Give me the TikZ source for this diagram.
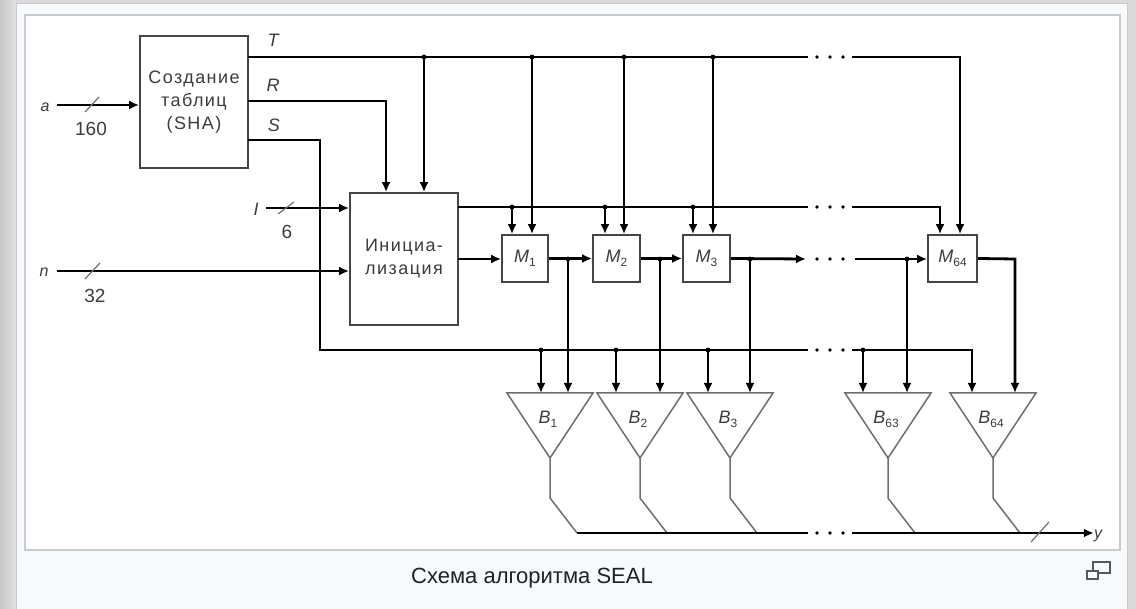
\documentclass[tikz,border=0pt]{standalone}
\usepackage{fontspec}
\setmainfont{Liberation Sans}
\newfontfamily\spacedfont[LetterSpace=8]{Liberation Sans}
\usetikzlibrary{arrows.meta,calc}
\definecolor{pagegrey}{HTML}{DADADA}
\definecolor{panelc}{HTML}{F8F9FA}
\definecolor{framec}{HTML}{C8CCD1}
\definecolor{boxc}{HTML}{454545}
\definecolor{txtc}{HTML}{3C3C3C}
\definecolor{wirec}{HTML}{6E6E6E}
\definecolor{capc}{HTML}{202122}
\definecolor{iconc}{HTML}{54595D}
\newcommand\lowsub[1]{\raisebox{-4pt}{\fontsize{12}{12}\selectfont\upshape #1}}
\newcommand\ellip[1]{\foreach \dx in {817,830,843}{\fill (\dx,#1) circle (1.9pt);}}
\newcommand\jdot[1]{\fill (#1) circle (2.4pt);}
\tikzset{
  sig/.style={line width=2.8pt, draw=black},
  arr/.style={sig, -{Latex[length=10pt,width=9pt]}},
  blk/.style={draw=boxc, line width=1.8pt, fill=white, inner sep=0pt, text=txtc},
  tri/.style={draw=wirec, line width=1.5pt, line join=miter},
  outw/.style={draw=wirec, line width=1.5pt},
  slashm/.style={draw=wirec, line width=1.2pt},
  lab/.style={font=\fontsize{18}{18}\selectfont\itshape, text=txtc, inner sep=0pt},
  smalllab/.style={font=\fontsize{16}{16}\selectfont\itshape, text=txtc, inner sep=0pt},
  num/.style={font=\fontsize{19}{19}\selectfont, text=txtc, inner sep=0pt},
  mlab/.style={font=\fontsize{18}{18}\selectfont\itshape, text=txtc, inner sep=0pt},
}
\begin{document}
\begin{tikzpicture}[x=1pt,y=-1pt]
\useasboundingbox (0,0) rectangle (1136,609);
% page background
\fill[pagegrey] (0,0) rectangle (1136,609);
\shade[left color=black!22, right color=black!12] (0,0) rectangle (16,609);
\fill[panelc, draw=framec, line width=1pt] (16,4) rectangle (1127,620);
\fill[white, draw=framec, line width=1.2pt] (25,15) rectangle (1120,550);

% blocks
\node[blk, minimum width=108pt, minimum height=132pt, align=center,
      font=\spacedfont\fontsize{18}{23}\selectfont] (sha) at (194,102) {Создание\\таблиц\\(SHA)};
\node[blk, minimum width=108pt, minimum height=132pt, align=center,
      font=\spacedfont\fontsize{18}{23}\selectfont] (init) at (404,259) {Инициа-\\лизация};
\node[blk, mlab, minimum width=46pt, minimum height=47pt] (m1) at (525,258.5) {M\lowsub{1}};
\node[blk, mlab, minimum width=47pt, minimum height=47pt] (m2) at (616.5,258.5) {M\lowsub{2}};
\node[blk, mlab, minimum width=47pt, minimum height=47pt] (m3) at (706.5,258.5) {M\lowsub{3}};
\node[blk, mlab, minimum width=49pt, minimum height=47pt] (m64) at (952.5,258.5) {M\lowsub{64}};

% combiners
\foreach \nm/\cx/\bidx in {b1/550/1, b2/640/2, b3/730/3, b63/888/63, b64/993/64}{
  \draw[tri] (\cx-43,393) -- (\cx+43,393) -- (\cx,458) -- cycle;
  \coordinate (\nm o) at (\cx,458);
  \coordinate (\nm k) at (\cx,498);
  \coordinate (\nm j) at (\cx+27,533);
  \node[mlab] (\nm) at (\cx-2,419) {B\lowsub{\bidx}};
}

% labels
\node[smalllab] (la) at (45,107) {a};
\node[num] (n160) at (91,129) {160};
\node[lab] (lT) at (273,40) {T};
\node[lab] (lR) at (273,85) {R};
\node[lab] (lS) at (274,125) {S};
\node[lab] (lI) at (256,209) {I};
\node[num] (n6) at (287,232) {6};
\node[smalllab] (ln) at (44,272) {n};
\node[num] (n32) at (95,296) {32};
\node[smalllab] (ly) at (1098,536) {y};

% input a
\coordinate (a0) at (57,105);
\draw[arr] (a0) -- (a0 -| sha.west);
\draw[slashm] (85,112) -- (99,97);
% input I
\coordinate (i0) at (266,208);
\draw[arr] (i0) -- (i0 -| init.west);
\draw[slashm] (278,214) -- (294,202);
% input n
\coordinate (n0) at (57,271);
\draw[arr] (n0) -- (n0 -| init.west);
\draw[slashm] (85,279) -- (100,263);

% T bus
\coordinate (tT) at (248,57);
\coordinate (tTe) at (808,57);
\coordinate (tTr) at (852,57);
\coordinate (tTc) at (960,57);
\draw[sig] (tT) -- (tTe);
\ellip{57}
\draw[arr] (tTr) -- (tTc) -- (tTc |- m64.north);
\foreach \xx/\tg in {424/init, 532/m1, 624/m2, 713/m3}{
  \coordinate (tp) at (\xx,57);
  \draw[arr] (tp) -- (tp |- \tg.north);
  \jdot{tp}
}

% R line
\coordinate (tR) at (248,101);
\coordinate (tRc) at (386,101);
\draw[arr] (tR) -- (tRc) -- (tRc |- init.north);

% Init upper line
\coordinate (u0) at (458,207);
\coordinate (ue) at (808,207);
\coordinate (ur) at (852,207);
\coordinate (uc) at (940,207);
\draw[sig] (u0) -- (ue);
\ellip{207}
\draw[arr] (ur) -- (uc) -- (uc |- m64.north);
\foreach \xx/\tg in {512/m1, 605/m2, 693/m3}{
  \coordinate (up) at (\xx,207);
  \draw[arr] (up) -- (up |- \tg.north);
  \jdot{up}
}

% M chain
\coordinate (c0) at (458,259);
\draw[arr] (c0) -- (c0 -| m1.west);
\draw[arr] (m1.east) -- (m2.west);
\draw[arr] (m2.east) -- (m3.west);
\coordinate (ce) at (806,259);
\coordinate (cr) at (855,259);
\draw[arr] (m3.east) -- (ce);
\ellip{259}
\draw[arr] (cr) -- (cr -| m64.west);
\coordinate (mo) at (1015,259);
\coordinate (mi) at (1015,393);
\draw[arr] (m64.east) -- (mo) -- (mi);
\foreach \xx in {568,660,750,907}{
  \coordinate (mp) at (\xx,259);
  \draw[arr] (mp) -- (\xx,393);
  \jdot{mp}
}

% S bus
\coordinate (tS) at (248,140);
\coordinate (sc) at (320,140);
\coordinate (sb) at (320,350);
\coordinate (se) at (808,350);
\coordinate (sr) at (852,350);
\coordinate (sd) at (972,350);
\coordinate (si) at (972,393);
\draw[sig] (tS) -- (sc) -- (sb) -- (se);
\ellip{350}
\draw[arr] (sr) -- (sd) -- (si);
\foreach \xx in {541,616,708,863}{
  \coordinate (sp) at (\xx,350);
  \draw[arr] (sp) -- (\xx,393);
  \jdot{sp}
}

% outputs
\foreach \nm in {b1,b2,b3,b63,b64}{
  \draw[outw] (\nm o) -- (\nm k) -- (\nm j);
}
\coordinate (ye) at (808,533);
\coordinate (yr) at (852,533);
\draw[sig] (b1j) -- (ye);
\ellip{533}
\draw[arr] (yr) -- (yr -| ly.west);
\draw[slashm] (1031,542) -- (1049,522);

% caption
\node[font=\fontsize{22}{22}\selectfont, text=capc, inner sep=0pt] (cap) at (532,578) {Схема алгоритма SEAL};
% enlarge icon
\draw[iconc, line width=1.1pt] (1093,571) -- (1093,562) -- (1110,562) -- (1110,573) -- (1098,573);
\draw[iconc, line width=1.1pt] (1087,571) rectangle (1098,579);
\end{tikzpicture}
\end{document}
